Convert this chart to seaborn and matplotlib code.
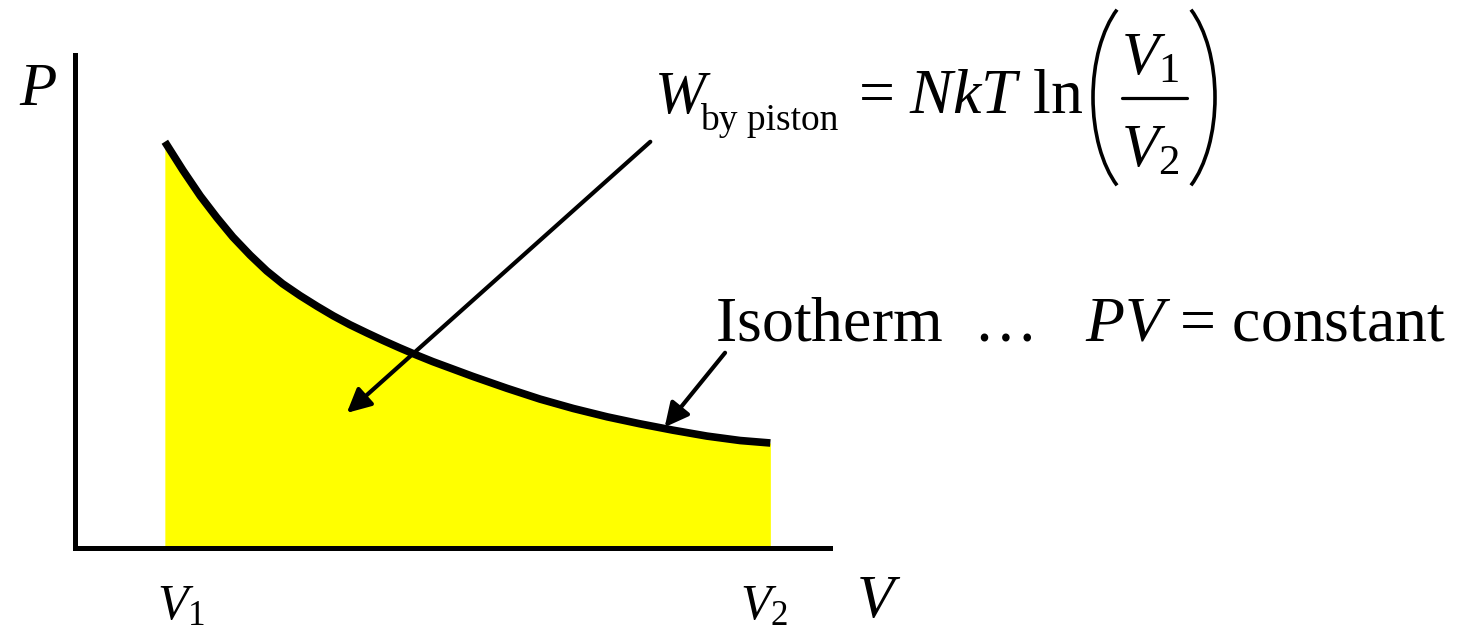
import numpy as np
import matplotlib
matplotlib.use('Agg')
import matplotlib.pyplot as plt
from matplotlib.patches import Arc
from matplotlib.lines import Line2D
import seaborn as sns

# P-V diagram: isothermal compression, work done by the piston = area under the curve

# isotherm (arbitrary units, both axes run 0..10)
V = [1.19, 1.43, 1.66, 1.88, 2.09, 2.32, 2.54, 2.75, 2.98, 3.21, 3.42, 3.64, 3.87, 4.08,
     4.30, 4.53, 4.74, 4.97, 5.27, 5.72, 6.16, 6.60, 7.05, 7.48, 7.92, 8.37, 8.81, 9.21]
P = [8.24, 7.66, 7.14, 6.70, 6.31, 5.94, 5.62, 5.36, 5.12, 4.90, 4.71, 4.53, 4.36, 4.21,
     4.06, 3.91, 3.78, 3.65, 3.48, 3.24, 3.02, 2.83, 2.66, 2.52, 2.39, 2.27, 2.18, 2.13]

xlabel = 'V'
ylabel = 'P'
tick_labels = [r'$V_1$', r'$V_2$']
work_symbol = 'W'
work_sub = 'by piston'
work_rhs = r'= $NkT$ ln'
frac_top = r'$V_1$'
frac_bottom = r'$V_2$'
isotherm_label = r'Isotherm  …   $PV$ = constant'

sns.set_style('white')
plt.rcParams['font.family'] = ['Liberation Serif', 'DejaVu Serif']
plt.rcParams['mathtext.fontset'] = 'custom'
plt.rcParams['mathtext.rm'] = 'Liberation Serif'
plt.rcParams['mathtext.it'] = 'Liberation Serif:italic'
plt.rcParams['mathtext.bf'] = 'Liberation Serif:bold'
plt.rcParams['text.color'] = 'black'

W, H = 1466, 635
fig = plt.figure(figsize=(W / 100, H / 100), dpi=100)
ax = fig.add_axes([75 / W, 87 / H, 755 / W, 493 / H])


def fx(x):
    return x / W


def fy(y):
    return 1 - y / H


# yellow area under the isotherm
ax.fill_between(V, P, 0, color='#ffff00', lw=0)
sns.lineplot(x=V, y=P, ax=ax, color='black', lw=5.5, sort=False,
             solid_capstyle='butt', solid_joinstyle='round')

ax.set_xlim(0, 10)
ax.set_ylim(0, 10)
ax.set_xticks([])
ax.set_yticks([])
ax.set_xlabel('')
ax.set_ylabel('')
sns.despine(ax=ax)
for side in ['left', 'bottom']:
    ax.spines[side].set_linewidth(3.6)
    ax.spines[side].set_color('black')

# axis names and the two volumes
ax.text(-0.24, 8.99, ylabel, fontsize=44, ha='right', va='baseline',
        fontstyle='italic')
ax.text(10.35, -1.1, xlabel, fontsize=44, ha='left', va='center',
        fontstyle='italic')
ax.text(V[0] - 0.1, -1.2, tick_labels[0], fontsize=36, ha='left', va='center')
ax.text(V[-1] - 0.4, -1.2, tick_labels[1], fontsize=36, ha='left', va='center')

# arrows pointing at the area and at the curve
arrow = dict(arrowstyle='-|>', lw=3, color='black', mutation_scale=36,
             shrinkA=0, shrinkB=0)
ax.annotate('', xy=(3.60, 2.74), xytext=(7.62, 8.24), annotation_clip=False,
            arrowprops=arrow)
ax.annotate('', xy=(7.81, 2.45), xytext=(8.61, 3.96), annotation_clip=False,
            arrowprops=arrow)

# W_by piston = NkT ln(V1/V2)
fig.text(fx(655), fy(113), work_symbol, fontsize=44, fontstyle='italic',
         ha='left', va='baseline')
fig.text(fx(700), fy(130), work_sub, fontsize=27, ha='left', va='baseline')
fig.text(fx(858), fy(113), work_rhs, fontsize=46, ha='left', va='baseline')
fig.text(fx(1150), fy(75), frac_top, fontsize=44, ha='center', va='baseline')
fig.text(fx(1150), fy(167), frac_bottom, fontsize=44, ha='center', va='baseline')
fig.add_artist(Line2D([fx(1122), fx(1187)], [fy(98), fy(98)], lw=2.3, color='black'))
tr = fig.dpi_scale_trans
fig.add_artist(Arc((11.49, (H - 97.5) / 100), 1.12, 2.14, theta1=110, theta2=250,
                   transform=tr, lw=2.6, color='black'))
fig.add_artist(Arc((11.59, (H - 97.5) / 100), 1.12, 2.14, theta1=-70, theta2=70,
                   transform=tr, lw=2.6, color='black'))

# isotherm label
fig.text(fx(715), fy(340), isotherm_label, fontsize=46, ha='left', va='baseline')

fig.savefig('out.png', dpi=100)
